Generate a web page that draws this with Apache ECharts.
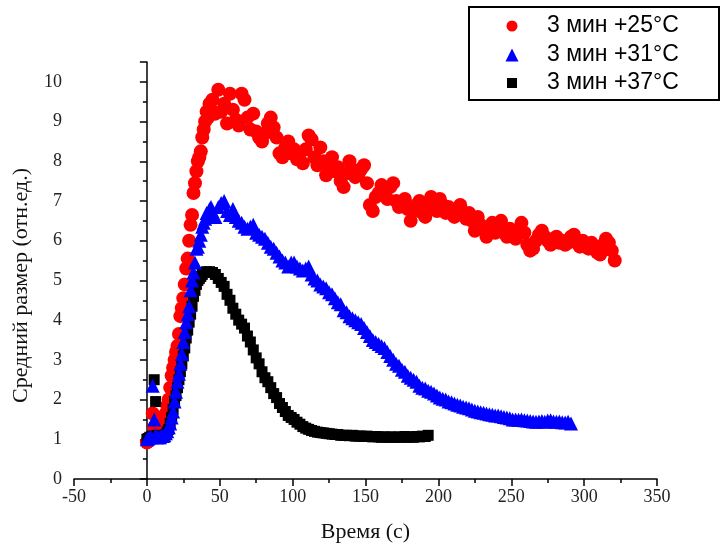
<!DOCTYPE html>
<html>
<head>
<meta charset="utf-8">
<script src="https://cdn.jsdelivr.net/npm/echarts@6/dist/echarts.min.js"></script>
<style>
html,body{margin:0;padding:0;background:#fff;}
#chart{width:721px;height:549px;}
</style>
</head>
<body>
<div id="chart"></div>
<script>
// Time samples (s), shared by all three series (each uses the first N entries)
const timeSec = [
  0,1,2,3,4,5,6,7,8,9,10,11,12,13,14,15,16,17,18,19,
  20,21,22,23,24,25,26,27,28,29,30,31,32,33,34,35,36,37,38,39,
  40,41,42,43,44,45,
  47,49,51,53,55,57,59,61,63,65,67,69,71,73,75,77,79,81,83,85,
  87,89,91,93,95,97,99,101,103,105,107,109,111,113,115,117,119,121,123,125,
  127,129,131,133,135,137,139,141,143,145,147,149,151,153,155,157,159,161,163,165,
  167,169,171,173,175,177,179,181,183,185,187,189,191,193,195,197,199,201,203,205,
  207,209,211,213,215,217,219,221,223,225,227,229,231,233,235,237,239,241,243,245,
  247,249,251,253,255,257,259,261,263,265,267,269,271,273,275,277,279,281,283,285,
  287,289,291,293,295,297,299,301,303,305,307,309,311,313,315,317,319,321
];

const seriesNames = ['3 мин +25°C', '3 мин +31°C', '3 мин +37°C'];

// 3 мин +25°C (red circles)
const size25 = [
  0.92,0.95,1.0,1.05,1.65,1.3,1.35,1.3,1.32,1.3,
  1.35,1.4,1.5,1.65,1.85,2.0,2.3,2.6,2.8,3.0,
  3.2,3.35,3.65,4.1,4.3,4.55,4.9,5.3,5.55,6.0,
  6.4,6.65,7.2,7.45,7.75,8.0,8.1,8.25,8.6,8.8,
  9.0,9.25,9.1,9.45,9.3,9.55,
  9.2,9.8,9.25,9.45,8.95,9.7,9.3,9.05,8.9,9.7,
  9.55,9.1,8.8,9.2,8.75,8.6,8.5,8.7,8.95,9.1,
  8.85,8.6,8.2,8.1,8.35,8.5,8.2,8.3,8.05,8.2,
  7.95,8.3,8.65,8.55,8.1,7.9,8.35,8.0,7.65,7.9,
  8.1,7.75,7.85,7.5,7.35,7.7,8.0,7.8,7.6,7.65,
  7.8,7.9,7.45,6.9,6.75,7.1,7.2,7.4,7.2,7.05,
  7.35,7.45,7.0,6.85,6.95,7.05,6.8,6.5,6.75,6.9,
  7.0,6.7,6.6,6.95,7.1,6.85,6.75,7.05,6.9,6.7,
  6.85,6.7,6.6,6.75,6.9,6.7,6.55,6.7,6.5,6.25,
  6.6,6.4,6.3,6.1,6.3,6.45,6.2,6.3,6.5,6.2,
  6.1,6.3,6.25,6.05,6.2,6.45,6.2,5.9,5.75,5.8,
  6.0,6.15,6.25,6.1,6.0,5.9,6.05,6.1,5.95,6.0,
  5.9,5.95,6.1,6.15,5.95,5.85,6.0,5.85,5.8,5.95,
  5.85,5.7,5.65,5.9,6.05,5.95,5.75,5.5
];

// 3 мин +31°C (blue triangles)
const size31 = [
  1.0,1.02,1.05,1.05,2.35,1.5,1.1,1.05,1.05,1.05,
  1.08,1.08,1.1,1.15,1.2,1.3,1.4,1.55,1.7,1.95,
  2.2,2.45,2.65,2.9,3.15,3.45,3.7,3.95,4.15,4.35,
  4.75,5.0,5.2,5.45,5.8,5.85,6.0,6.15,6.35,6.45,
  6.55,6.7,6.6,6.8,6.85,6.7,
  6.6,6.85,6.95,7.0,6.75,6.65,6.8,6.6,6.5,6.45,
  6.35,6.3,6.35,6.4,6.2,6.15,6.1,6.05,5.95,5.85,
  5.8,5.7,5.6,5.5,5.45,5.35,5.45,5.45,5.35,5.3,
  5.25,5.3,5.35,5.15,5.05,5.0,4.9,4.85,4.8,4.7,
  4.65,4.55,4.45,4.4,4.25,4.2,4.1,4.05,4.0,3.95,
  3.9,3.8,3.7,3.6,3.5,3.45,3.4,3.35,3.3,3.2,
  3.1,3.0,2.9,2.85,2.75,2.7,2.6,2.55,2.5,2.45,
  2.35,2.3,2.28,2.22,2.2,2.15,2.1,2.05,2.02,2.0,
  1.95,1.93,1.9,1.87,1.85,1.82,1.8,1.78,1.75,1.72,
  1.7,1.68,1.67,1.65,1.63,1.62,1.6,1.6,1.58,1.56,
  1.55,1.53,1.5,1.5,1.49,1.5,1.48,1.47,1.46,1.45,
  1.44,1.45,1.46,1.44,1.47,1.48,1.45,1.44,1.45,1.43,
  1.42,1.44,1.4
];

// 3 мин +37°C (black squares)
const size37 = [
  1.0,1.02,1.05,1.05,1.08,2.5,1.95,1.1,1.05,1.05,
  1.05,1.05,1.08,1.12,1.18,1.25,1.4,1.55,1.75,1.95,
  2.1,2.3,2.5,2.7,2.9,3.1,3.3,3.55,3.75,3.95,
  4.15,4.35,4.6,4.75,4.9,5.0,5.05,5.1,5.15,5.2,
  5.2,5.22,5.2,5.22,5.2,5.2,
  5.15,5.05,4.95,4.85,4.65,4.5,4.3,4.15,4.0,3.9,
  3.8,3.6,3.45,3.25,3.05,2.9,2.7,2.55,2.45,2.3,
  2.15,2.05,1.9,1.8,1.7,1.6,1.55,1.5,1.43,1.38,
  1.32,1.28,1.25,1.22,1.2,1.18,1.17,1.16,1.15,1.14,
  1.13,1.12,1.12,1.1,1.1,1.1,1.09,1.1,1.08,1.08,
  1.08,1.07,1.08,1.07,1.06,1.07,1.06,1.05,1.06,1.05,
  1.06,1.05,1.05,1.06,1.05,1.07,1.05,1.06,1.05,1.07,
  1.06,1.08,1.07,1.1
];

const xTicks = { min: -50, max: 350, interval: 50 };
const yTicks = { min: 0, max: 10.5, interval: 1 };

function pairs(vals) { return vals.map((v, i) => [timeSec[i], v]); }

const chart = echarts.init(document.getElementById('chart'), null, { renderer: 'canvas' });

const serif = "'Liberation Serif', 'DejaVu Serif', serif";
const sans = "'Liberation Sans', 'DejaVu Sans', sans-serif";

function legendItem(name, icon, sz, color, cy, cx) {
  const lh = 26;
  return {
    data: [{ name: name, icon: icon, itemStyle: { color: color } }],
    selectedMode: false,
    orient: 'vertical',
    left: cx - sz / 2,
    top: cy - lh / 2,
    padding: 0,
    itemWidth: sz,
    itemHeight: sz,
    textStyle: {
      fontFamily: sans, fontSize: 23, color: '#000', lineHeight: lh,
      padding: [0, 0, 0, 547 - (cx - sz / 2 + sz + 5)]
    }
  };
}

const option = {
  backgroundColor: '#fff',
  animation: false,
  grid: { left: 74, right: 64, top: 62, bottom: 70 },
  graphic: [{
    type: 'rect', left: 468, top: 6, z: 0,
    shape: { width: 250, height: 93 },
    style: { fill: '#fff', stroke: '#000', lineWidth: 2 }
  }],
  legend: [
    legendItem(seriesNames[0], 'circle', 11, '#ff0000', 26, 512),
    legendItem(seriesNames[1], 'triangle', 13, '#0000ff', 55, 512),
    legendItem(seriesNames[2], 'rect', 10, '#000000', 83, 512)
  ],
  xAxis: {
    type: 'value', min: xTicks.min, max: xTicks.max, interval: xTicks.interval,
    name: 'Время (с)', nameLocation: 'middle', nameGap: 42,
    nameTextStyle: { fontFamily: serif, fontSize: 22, color: '#111' },
    axisLine: { lineStyle: { color: '#000', width: 1.5 } },
    axisTick: { show: true, inside: false, length: 7, lineStyle: { color: '#000', width: 1.5 } },
    minorTick: { show: true, splitNumber: 2, length: 4, lineStyle: { color: '#000', width: 1.5 } },
    splitLine: { show: false },
    axisLabel: { fontFamily: serif, fontSize: 18, color: '#222', margin: 9 }
  },
  yAxis: {
    type: 'value', min: yTicks.min, max: yTicks.max, interval: yTicks.interval,
    name: 'Средний размер (отн.ед.)', nameLocation: 'middle', nameGap: 42, nameRotate: 90,
    nameTextStyle: { fontFamily: serif, fontSize: 22, color: '#111', padding: [0, 30, 0, 0] },
    axisLine: { show: true, lineStyle: { color: '#000', width: 1.5 } },
    axisTick: { show: true, inside: false, length: 7, lineStyle: { color: '#000', width: 1.5 } },
    minorTick: { show: true, splitNumber: 2, length: 4, lineStyle: { color: '#000', width: 1.5 } },
    splitLine: { show: false },
    axisLabel: {
      fontFamily: serif, fontSize: 18, color: '#222', margin: 12,
      formatter: v => (Number.isInteger(v) ? String(v) : '')
    }
  },
  series: [
    {
      name: seriesNames[0], type: 'scatter', symbol: 'circle', symbolSize: 14,
      itemStyle: { color: '#ff0000', opacity: 1 }, data: pairs(size25), z: 2
    },
    {
      name: seriesNames[2], type: 'scatter', symbol: 'rect', symbolSize: 11,
      itemStyle: { color: '#000000', opacity: 1 }, data: pairs(size37), z: 3
    },
    {
      name: seriesNames[1], type: 'scatter', symbol: 'triangle', symbolSize: 14,
      itemStyle: { color: '#0000ff', opacity: 1 }, data: pairs(size31), z: 4
    }
  ]
};
chart.setOption(option);
</script>
</body>
</html>
